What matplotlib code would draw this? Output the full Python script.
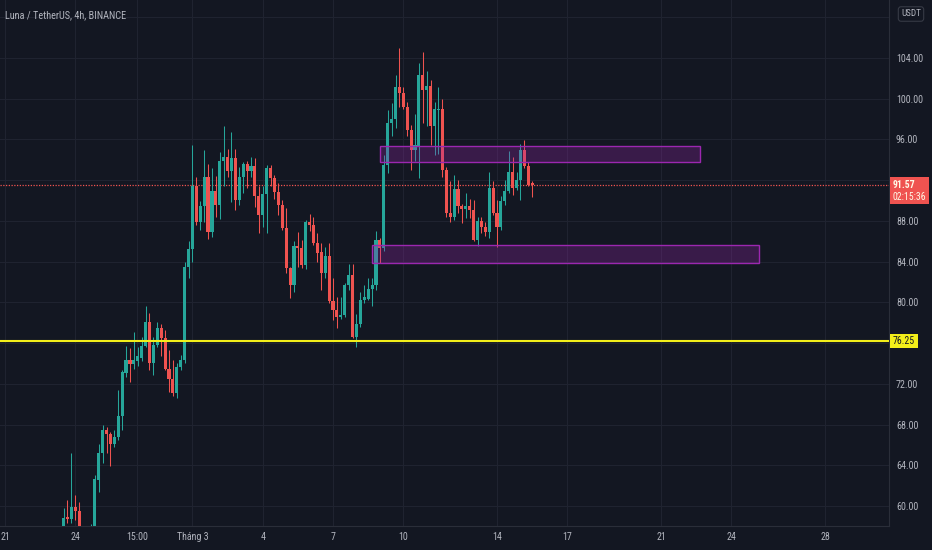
import numpy as np
import pandas as pd
import matplotlib
matplotlib.use("Agg")
import matplotlib.pyplot as plt
import matplotlib.dates as mdates
from matplotlib.patches import Rectangle
from matplotlib import font_manager as fm

# ---------------- data ----------------
title = "Luna / TetherUS, 4h, BINANCE"
currency = "USDT"
start_time = "2022-02-23 12:00"
opens = [57.9, 58.9, 58.7, 59.9, 59.5, 57.0, 56.0, 56.6, 57.6, 62.5,
         65.2, 67.5, 67.1, 66.1, 66.8, 68.8, 73.1, 74.3, 73.9, 74.2,
         74.5, 75.7, 78.1, 74.0, 75.8, 77.5, 76.5, 73.5, 72.5, 71.1,
         73.6, 74.3, 83.5, 85.2, 91.4, 87.9, 89.5, 92.3, 86.9, 90.9,
         89.6, 93.9, 94.3, 92.9, 94.2, 90.1, 92.3, 93.6, 92.9, 93.4,
         90.4, 88.6, 90.6, 93.2, 92.2, 90.8, 89.6, 87.3, 83.4, 81.7,
         85.5, 85.3, 83.7, 87.9, 87.6, 85.8, 84.9, 82.9, 84.6, 80.1,
         79.2, 78.6, 78.8, 81.7, 82.7, 76.6, 77.9, 80.2, 80.3, 81.3,
         81.7, 86.1, 85.3, 93.5, 97.6, 98.0, 101.2, 100.6, 99.2, 96.9,
         95.0, 95.4, 102.3, 100.9, 101.3, 97.3, 98.9, 99.0, 93.0, 88.8,
         88.4, 91.1, 89.5, 89.2, 89.5, 89.1, 86.1, 88.0, 87.4, 86.9,
         91.2, 88.8, 87.4, 90.0, 90.9, 92.8, 91.2, 92.0, 95.0, 93.4,
         91.7]
highs = [59.8, 60.6, 65.2, 61.1, 60.4, 57.6, 57.0, 58.2, 63.0, 66.1,
         68.0, 67.8, 67.3, 67.5, 71.4, 73.4, 75.7, 75.5, 77.1, 75.6,
         76.6, 79.6, 79.0, 76.6, 78.1, 77.9, 77.3, 75.3, 74.3, 74.0,
         74.8, 84.0, 86.0, 95.5, 92.3, 90.0, 95.0, 93.6, 93.2, 92.4,
         94.8, 97.3, 95.1, 96.7, 95.1, 93.3, 93.8, 93.9, 94.3, 94.2,
         91.4, 91.4, 93.5, 93.5, 92.5, 91.7, 90.1, 89.3, 83.5, 86.0,
         86.9, 86.1, 88.1, 88.7, 88.4, 86.8, 85.8, 85.4, 85.8, 82.4,
         80.5, 80.5, 81.9, 83.8, 83.8, 78.9, 81.0, 81.7, 82.4, 82.4,
         87.0, 86.3, 94.5, 98.9, 99.6, 102.3, 105.0, 101.2, 99.7, 97.4,
         98.5, 103.5, 104.6, 102.7, 101.8, 99.7, 101.2, 100.0, 93.3, 91.9,
         92.5, 92.0, 89.7, 90.7, 90.2, 90.1, 88.4, 88.4, 87.9, 92.8,
         91.9, 90.1, 90.4, 92.0, 94.9, 94.3, 92.8, 95.6, 95.9, 93.8,
         91.9]
lows = [57.5, 58.3, 58.3, 58.6, 56.5, 55.5, 55.2, 56.3, 57.4, 61.4,
        64.2, 65.2, 63.9, 65.8, 66.5, 67.5, 72.7, 72.2, 73.5, 73.7,
        74.2, 75.6, 73.4, 72.9, 75.6, 74.7, 73.4, 71.2, 70.8, 70.6,
        73.4, 74.0, 82.4, 84.0, 87.6, 87.1, 87.9, 86.2, 86.4, 88.4,
        88.2, 91.4, 92.3, 89.9, 89.1, 89.6, 90.7, 91.2, 92.3, 89.4,
        86.8, 87.4, 86.8, 91.4, 90.2, 88.6, 87.1, 82.9, 80.4, 81.0,
        83.5, 83.4, 83.3, 87.0, 85.6, 84.0, 81.2, 82.4, 79.9, 78.3,
        77.5, 78.4, 78.6, 81.2, 76.5, 75.6, 77.6, 79.9, 80.2, 79.6,
        81.2, 83.9, 85.0, 92.7, 96.3, 97.1, 99.2, 99.0, 96.3, 93.0,
        93.9, 92.2, 97.6, 97.3, 95.5, 94.5, 94.6, 92.3, 88.4, 87.9,
        88.1, 88.8, 87.8, 88.3, 88.3, 86.0, 85.5, 86.8, 86.5, 86.3,
        88.6, 85.4, 87.1, 89.6, 90.7, 90.5, 91.0, 90.1, 93.2, 91.4,
        90.3]
closes = [58.8, 58.7, 59.9, 59.5, 57.0, 56.0, 56.6, 57.6, 62.6, 65.2,
          67.5, 67.1, 66.1, 66.8, 68.8, 73.2, 74.3, 73.9, 74.3, 74.7,
          75.7, 78.1, 74.0, 75.8, 77.5, 76.5, 73.5, 72.5, 71.1, 73.6,
          74.3, 83.5, 85.2, 91.4, 87.9, 89.5, 92.3, 86.9, 90.9, 89.6,
          93.9, 94.3, 92.9, 94.2, 90.1, 92.3, 93.6, 92.9, 93.4, 90.4,
          88.6, 90.6, 93.2, 92.2, 90.8, 89.6, 87.3, 83.4, 81.7, 85.5,
          85.3, 83.7, 87.9, 87.6, 85.8, 84.8, 82.9, 84.6, 80.1, 79.2,
          78.6, 78.8, 81.7, 82.7, 76.6, 77.9, 80.2, 80.5, 81.3, 81.7,
          86.1, 85.3, 93.5, 97.6, 98.0, 101.2, 100.6, 99.2, 96.9, 95.0,
          95.5, 102.3, 100.9, 101.3, 97.3, 99.0, 99.0, 93.0, 88.8, 88.4,
          91.1, 89.5, 89.2, 89.5, 89.1, 86.1, 88.0, 87.4, 86.9, 91.2,
          88.8, 87.4, 90.0, 90.9, 92.8, 91.2, 92.0, 95.0, 93.4, 91.5,
          91.57]

last_price = 91.57
countdown = "02:15:36"
support_level = 76.25

zone_upper_time = ["2022-03-09 00:00", "2022-03-22 16:00"]
zone_upper_price = [93.81, 95.36]
zone_lower_time = ["2022-03-08 16:00", "2022-03-25 04:00"]
zone_lower_price = [83.89, 85.63]

xtick_dates = ["2022-02-21 00:00", "2022-02-24 00:00", "2022-02-26 15:00", "2022-03-01 00:00",
               "2022-03-04 00:00", "2022-03-07 00:00", "2022-03-10 00:00", "2022-03-14 00:00",
               "2022-03-17 00:00", "2022-03-21 00:00", "2022-03-24 00:00", "2022-03-28 00:00"]
xtick_labels = ["21", "24", "15:00", "Tháng 3", "4", "7", "10", "14",
                "17", "21", "24", "28"]
ytick_values = [60, 64, 68, 72, 76, 80, 84, 88, 92, 96, 100, 104, 108]
ytick_hidden = [76, 92, 108]   # covered by the price labels / currency box

# ---------------- style ----------------
BG = "#131722"
TXT = "#b2b5be"
GRID = "#1f2330"
UP = "#26a69a"
DOWN = "#ef5350"
YEL = "#f2ee1a"
W, H = 932, 550

# pick a narrow font if one is installed
entries = fm.fontManager.ttflist
narrow = None
for pref in ["Liberation Sans Narrow", "Roboto Condensed", "Open Sans Condensed",
             "DejaVu Sans Condensed", "Noto Sans Condensed"]:
    if any(e.name == pref for e in entries):
        narrow = pref
        break
if narrow is None:
    for e in entries:
        if str(e.stretch) in ("condensed", "semi-condensed", "extra-condensed") or "Narrow" in e.name:
            narrow = e.name
            break
if narrow is not None:
    FAM, FS = narrow, 7.2
else:
    FAM, FS = "Roboto", 6.4
plt.rcParams["font.family"] = [FAM, "DejaVu Sans"]


def to_num(strings):
    return mdates.date2num(pd.to_datetime(strings, format="%Y-%m-%d %H:%M").to_pydatetime())


fig = plt.figure(figsize=(W / 100, H / 100), dpi=100, facecolor=BG)
ax = fig.add_axes([0, 24 / H, 889 / W, 526 / H])
ax.set_facecolor(BG)

t = pd.date_range(start_time, periods=len(opens), freq="4h")
x = mdates.date2num(t.to_pydatetime())
o = np.array(opens); c = np.array(closes)
hi = np.array(highs); lo = np.array(lows)
up = c >= o
cols = np.where(up, UP, DOWN)
step = 4 / 24
bottom = np.minimum(o, c)
height = np.maximum(np.abs(c - o), 0.09)

ax.vlines(x, lo, hi, colors=cols, linewidth=0.75, zorder=3)
ax.bar(x, height, bottom=bottom, width=step * 0.8, color=cols,
       linewidth=0, zorder=4)

# zones
for tt, pp in [(zone_upper_time, zone_upper_price), (zone_lower_time, zone_lower_price)]:
    x0, x1 = to_num(tt)
    ax.add_patch(Rectangle((x0, pp[0]), x1 - x0, pp[1] - pp[0],
                           facecolor=(156 / 255, 39 / 255, 176 / 255, 0.28),
                           edgecolor="#9c27b0", linewidth=1.0, zorder=5))

ax.axhline(support_level, color=YEL, linewidth=1.5, zorder=6)
ax.axhline(last_price, color=DOWN, linewidth=0.9, linestyle=(0, (1, 1.2)), zorder=2)

xt = to_num(xtick_dates)
d0 = xt[0]
px_per_day = 23.43
ax.set_xlim(d0 - 5 / px_per_day, d0 + 884 / px_per_day)
ax.set_ylim(58.03, 109.70)

ax.set_xticks(xt)
ax.set_xticklabels(xtick_labels)
ax.set_yticks(ytick_values)
ax.set_yticklabels(["" if v in ytick_hidden else f"{v:.2f}" for v in ytick_values])
ax.yaxis.tick_right()
ax.tick_params(axis="y", length=0, pad=5, labelsize=FS, labelcolor=TXT)
ax.tick_params(axis="x", length=0, pad=4.5, labelsize=FS, labelcolor=TXT)
ax.grid(True, color=GRID, linewidth=0.8)
ax.set_axisbelow(True)
for s in ["top", "left"]:
    ax.spines[s].set_visible(False)
for s in ["right", "bottom"]:
    ax.spines[s].set_color("#2a2e39")
    ax.spines[s].set_linewidth(0.8)

fig.text(5 / W, 1 - 15 / H, title, color=TXT, fontsize=FS + 0.2, va="center", ha="left")
fig.text(911 / W, 1 - 14 / H, currency, color=TXT, fontsize=FS - 0.6, va="center", ha="center",
         bbox=dict(boxstyle="round,pad=0.3", fc=BG, ec="#363a45", lw=0.8))

# price labels
yd = ax.transData.transform((x[0], last_price))[1]
fig.add_artist(Rectangle((890 / W, (yd - 19.5) / H), 39 / W, 27 / H,
                         transform=fig.transFigure, facecolor=DOWN, edgecolor="none"))
fig.text(892.5 / W, yd / H, f"{last_price:.2f}", color="#fff8e6", fontsize=FS - 0.2,
         va="center", ha="left", fontweight="bold")
fig.text(892.5 / W, (yd - 12.8) / H, countdown, color="#fff8e6", fontsize=FS - 0.2,
         va="center", ha="left")

ys = ax.transData.transform((x[0], support_level))[1]
fig.add_artist(Rectangle((890 / W, (ys - 7) / H), 28 / W, 14 / H,
                         transform=fig.transFigure, facecolor=YEL, edgecolor="none"))
fig.text(904 / W, ys / H, f"{support_level:.2f}", color="#131722", fontsize=FS - 0.2,
         va="center", ha="center")

fig.savefig("out.png", dpi=100, facecolor=BG)
